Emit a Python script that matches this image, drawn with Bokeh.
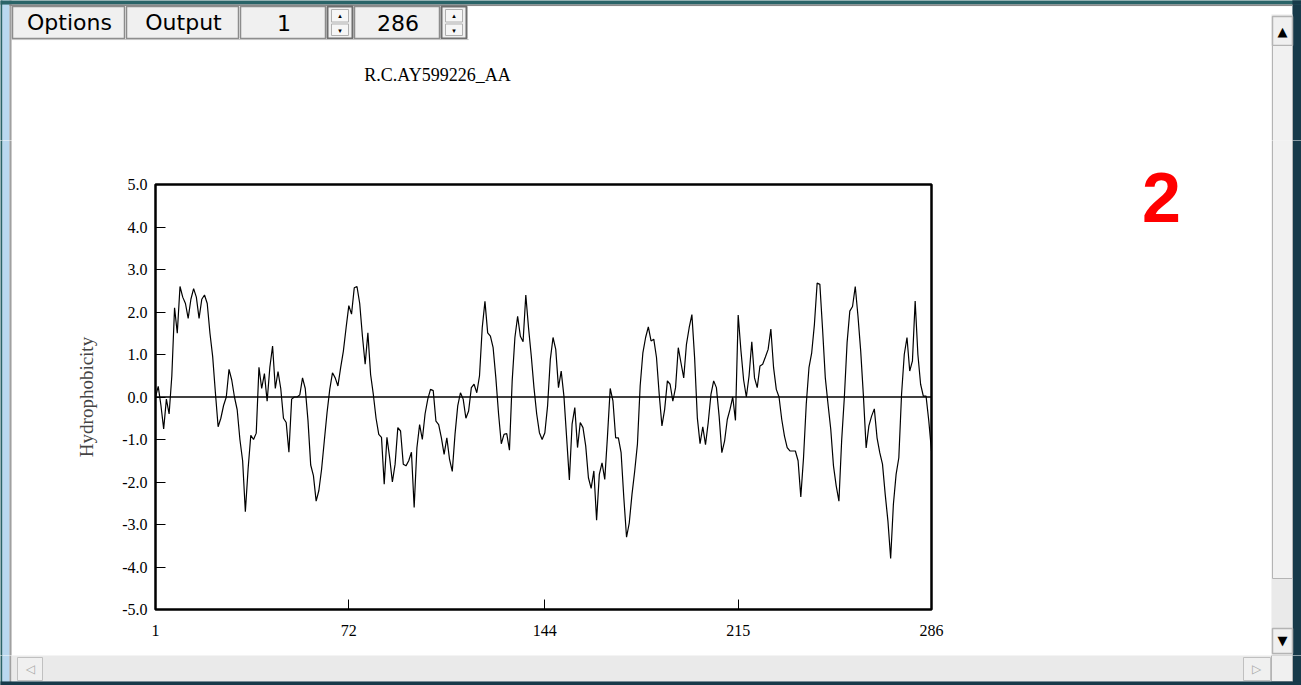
from bokeh.plotting import figure
from bokeh.layouts import column, row
from bokeh.models import Range1d, FixedTicker, PrintfTickFormatter, Span
from bokeh.core.properties import value
from bokeh.embed import file_html
from bokeh.resources import INLINE

# ---------------- data ----------------
chart_title = "R.C.AY599226_AA"
y_axis_title = "Hydrophobicity"
x_tick_values = [1, 72, 144, 215, 286]
y_tick_values = [-5, -4, -3, -2, -1, 0, 1, 2, 3, 4, 5]
toolbar_labels = ["Options", "Output", "1", "286"]
panel_number = "2"

hydrophobicity = [
    0.0, 0.25, -0.2, -0.75, -0.05, -0.4, 0.5, 2.1, 1.5, 2.6,
    2.35, 2.2, 1.85, 2.3, 2.55, 2.35, 1.85, 2.3, 2.4, 2.2,
    1.5, 0.95, 0.1, -0.7, -0.5, -0.2, 0.0, 0.65, 0.4, 0.0,
    -0.3, -1.0, -1.5, -2.7, -1.7, -0.9, -1.0, -0.85, 0.7, 0.2,
    0.55, -0.1, 0.7, 1.2, 0.2, 0.6, 0.2, -0.5, -0.6, -1.3,
    -0.05, 0.0, 0.0, 0.05, 0.45, 0.2, -0.55, -1.6, -1.85, -2.45,
    -2.2, -1.7, -1.03, -0.37, 0.18, 0.57, 0.45, 0.26, 0.69, 1.08,
    1.63, 2.15, 1.95, 2.57, 2.6, 2.2, 1.43, 0.77, 1.51, 0.53,
    0.06, -0.5, -0.88, -0.95, -2.05, -0.95, -1.43, -2.0, -1.58, -0.72,
    -0.8, -1.58, -1.62, -1.5, -1.3, -2.6, -1.2, -0.65, -1.0, -0.4,
    -0.05, 0.18, 0.15, -0.57, -0.65, -0.96, -1.35, -0.96, -1.47, -1.75,
    -0.88, -0.21, 0.1, -0.05, -0.5, -0.33, 0.22, 0.3, 0.1, 0.5,
    1.63, 2.25, 1.51, 1.43, 1.16, 0.45, -0.4, -1.1, -0.88, -0.86,
    -1.25, 0.38, 1.4, 1.9, 1.43, 1.3, 2.4, 1.63, 0.97, 0.22,
    -0.4, -0.84, -1.0, -0.84, -0.21, 0.88, 1.4, 1.12, 0.22, 0.61,
    0.02, -0.96, -1.95, -0.64, -0.25, -1.19, -0.6, -0.72, -1.15, -1.9,
    -2.15, -1.74, -2.9, -1.82, -1.55, -1.94, -0.92, 0.2, -0.09, -0.96,
    -0.96, -1.31, -2.37, -3.3, -2.96, -2.29, -1.74, -1.11, 0.26, 1.04,
    1.4, 1.65, 1.32, 1.36, 0.93, 0.06, -0.68, -0.29, 0.38, 0.3,
    -0.1, 0.22, 1.16, 0.8, 0.45, 1.24, 1.63, 1.94, 0.92, -0.49,
    -1.1, -0.7, -1.12, -0.6, 0.06, 0.38, 0.22, -0.45, -1.31, -1.04,
    -0.53, -0.29, 0.0, -0.55, 1.93, 1.1, 0.4, 0.0, 0.5, 1.3,
    0.45, 0.22, 0.73, 0.77, 0.94, 1.12, 1.6, 0.69, 0.18, 0.0,
    -0.53, -0.92, -1.19, -1.27, -1.27, -1.27, -1.5, -2.35, -1.43, -0.17,
    0.69, 1.04, 1.71, 2.68, 2.65, 1.59, 0.45, -0.17, -0.76, -1.62,
    -2.09, -2.45, -1.03, 0.0, 1.28, 2.02, 2.13, 2.6, 1.9, 1.08,
    0.02, -1.2, -0.68, -0.45, -0.28, -0.96, -1.31, -1.58, -2.29, -2.92,
    -3.8, -2.53, -1.82, -1.43, 0.06, 1.0, 1.4, 0.61, 0.85, 2.26,
    1.0, 0.3, 0.02, 0.02, -0.56, -1.27,
]
residue = list(range(1, len(hydrophobicity) + 1))

# ---------------- colours ----------------
TEAL = "#2a6468"
NAVY = "#173a4a"
LBLUE = "#b9d8ef"
BTN = "#f0f0f0"
BTN_EDGE = "#8c8c8c"
SB = "#eaeaea"
SB_EDGE = "#b4b4b4"
SERIF = "Liberation Serif"
SANS = "DejaVu Sans"

ROW_TOP, ROW_BOT = 140, 655      # page rows occupied by the chart row


# ---------------- decoration panels (pixel coordinates) ----------------
def deco(X0, Y0, X1, Y1):
    f = figure(width=X1 - X0, height=Y1 - Y0, x_range=Range1d(X0, X1),
               y_range=Range1d(Y1, Y0), output_backend="svg", toolbar_location=None,
               x_axis_location=None, y_axis_location=None, min_border=0, title=None,
               frame_align=False)
    f.min_border_left = f.min_border_right = f.min_border_top = f.min_border_bottom = 0
    f.outline_line_color = None
    f.xgrid.visible = False
    f.ygrid.visible = False
    f.background_fill_color = "white"
    f.border_fill_color = "white"
    return f


def rect(f, X1, Y1, X2, Y2, fill, edge=None, lw=1):
    f.quad(left=[X1], right=[X2], top=[Y1], bottom=[Y2], fill_color=fill,
           line_color=edge if edge else fill, line_width=lw if edge else 0.1)


def label(f, X, Y, t, size, font=SANS, color="black", style="normal", align="center"):
    f.text(x=[X], y=[Y], text=[t], text_font=value(font), text_font_size=value(size),
           text_color=color, text_align=align, text_baseline="middle",
           text_font_style=style)


def window_edges(f, Y0, Y1):
    rect(f, -2, Y0 - 3, 2, Y1 + 3, TEAL)
    rect(f, 2, Y0 - 3, 9, Y1 + 3, LBLUE)
    rect(f, 9, Y0 - 3, 11, Y1 + 3, "#a0a0a0")
    rect(f, 1292, Y0 - 3, 1303, Y1 + 3, NAVY)


def right_scroll_track(f, Y0, Y1):
    rect(f, 1271, Y0 - 3, 1292, Y1 + 3, SB)


# top panel
top = deco(0, 0, 1301, ROW_TOP)
window_edges(top, 0, ROW_TOP)
rect(top, -2, -2, 1303, 4, TEAL)
rect(top, 1292, -2, 1303, 4, NAVY)
rect(top, 9, 4, 1292, 5.5, "#8a8a8a")
btns = [(12, 124), (126, 238), (240, 325), (354, 439)]
for (x1, x2), lab in zip(btns, toolbar_labels):
    rect(top, x1, 6, x2, 38, BTN, BTN_EDGE, 1.5)
    label(top, (x1 + x2) / 2 + 1, 22, lab, "22px")
for x1 in (327, 441):
    rect(top, x1, 6, x1 + 25, 38, BTN, "#6e6e6e", 2)
    rect(top, x1 + 4, 9, x1 + 21, 21.5, "#f6f6f6", "#b0b0b0", 1)
    rect(top, x1 + 4, 23.5, x1 + 21, 35, "#f6f6f6", "#b0b0b0", 1)
    label(top, x1 + 12.5, 15, "\u25b4", "7px")
    label(top, x1 + 12.5, 30, "\u25be", "7px")
rect(top, 11, 38.5, 468, 39.5, "#c8c8c8")
# right scrollbar (upper part)
rect(top, 1271, 14, 1292, ROW_TOP + 3, SB)
rect(top, 1272, 16, 1292, 45, BTN, SB_EDGE, 1.5)
label(top, 1282, 31, "\u25b2", "13px")
rect(top, 1272, 45, 1292, ROW_TOP + 5, "#f1f1f1", SB_EDGE, 1)
label(top, 437, 74, chart_title, "18px", font=SERIF)

# left strip beside the chart
left = deco(0, ROW_TOP, 14, ROW_BOT)
window_edges(left, ROW_TOP, ROW_BOT)

# right panel beside the chart
right = deco(960, ROW_TOP, 1301, ROW_BOT)
window_edges(right, ROW_TOP, ROW_BOT)
right_scroll_track(right, ROW_TOP, ROW_BOT)
rect(right, 1272, ROW_TOP - 5, 1292, 578, "#f1f1f1", SB_EDGE, 1)
rect(right, 1272, 628, 1292, 653, BTN, SB_EDGE, 1.5)
label(right, 1282, 640, "\u25bc", "13px")
label(right, 1161, 197, panel_number, "70px", font="Liberation Sans", color="#ff0000",
      style="bold")

# bottom panel
bottom = deco(0, ROW_BOT, 1301, 685)
window_edges(bottom, ROW_BOT, 685)
rect(bottom, 11, ROW_BOT - 2, 1271, 681, SB)
rect(bottom, 1271, ROW_BOT, 1292, 681, "#f0f0f0", SB_EDGE, 1)
rect(bottom, 17, 657, 42, 680, BTN, "#c0c0c0", 1)
label(bottom, 30, 668, "\u25c1", "12px", color="#a8a8a8")
rect(bottom, 1243, 657, 1270, 680, BTN, "#c0c0c0", 1)
label(bottom, 1256, 668, "\u25b7", "12px", color="#a8a8a8")
rect(bottom, -2, 681, 1303, 688, NAVY)

# ---------------- main chart ----------------
MX0, MX1 = 14, 960
MW, MH = MX1 - MX0, ROW_BOT - ROW_TOP
FL, FT, FW, FH = 155 - MX0, 184 - ROW_TOP, 776, 425
p = figure(width=MW, height=MH, x_range=Range1d(1, 286), y_range=Range1d(-5, 5),
           output_backend="svg", toolbar_location=None, title=None, frame_align=False,
           min_border_left=FL, min_border_top=FT,
           min_border_right=MW - FL - FW, min_border_bottom=MH - FT - FH)
p.background_fill_color = "white"
p.border_fill_color = "white"
p.outline_line_color = "black"
p.outline_line_width = 2.5
p.xgrid.visible = False
p.ygrid.visible = False

for ax in (p.xaxis[0], p.yaxis[0]):
    ax.axis_line_color = None
    ax.major_tick_in = 10
    ax.major_tick_out = 0
    ax.major_tick_line_color = "black"
    ax.major_tick_line_width = 1
    ax.minor_tick_line_color = None
    ax.major_label_text_font = SERIF
    ax.major_label_text_font_size = "16px"
    ax.major_label_text_color = "black"

p.xaxis[0].ticker = FixedTicker(ticks=x_tick_values)
p.xaxis[0].major_label_standoff = 15
p.yaxis[0].ticker = FixedTicker(ticks=y_tick_values)
p.yaxis[0].formatter = PrintfTickFormatter(format="%.1f")
p.yaxis[0].major_label_standoff = 8
p.yaxis[0].axis_label = y_axis_title
p.yaxis[0].axis_label_text_font = SERIF
p.yaxis[0].axis_label_text_font_size = "19px"
p.yaxis[0].axis_label_text_font_style = "normal"
p.yaxis[0].axis_label_standoff = 22

p.add_layout(Span(location=0, dimension="width", line_color="black", line_width=1.3))
p.line(residue, hydrophobicity, line_color="black", line_width=1.2)

layout = column(top, row(left, p, right, spacing=0), bottom, spacing=0)
open("out.html", "w").write(file_html(layout, INLINE))
